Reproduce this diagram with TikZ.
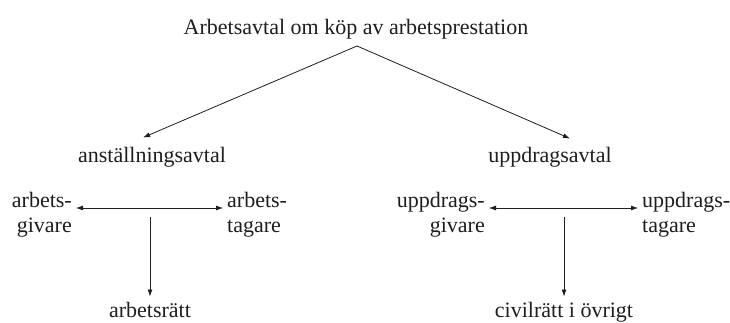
\documentclass[tikz,border=0pt]{standalone}
\usepackage{fontspec}
\setmainfont{Liberation Serif}
\usetikzlibrary{arrows.meta}
\definecolor{ink}{HTML}{1E1E1E}
\begin{document}
\begin{tikzpicture}[x=1pt,y=1pt,
  lbl/.style={inner sep=0pt, text=ink, font=\fontsize{22}{25}\selectfont},
  pair/.style={lbl, inner xsep=4pt},
  conn/.style={draw=ink, line width=0.8pt, -{Latex[length=7pt,width=5pt]}},
  both/.style={draw=ink, line width=0.8pt, {Latex[length=7pt,width=5pt]}-{Latex[length=7pt,width=5pt]}}]
\useasboundingbox (0,0) rectangle (730,-323);

% top level
\node[lbl, anchor=base] (title) at (356,-35) {Arbetsavtal om köp av arbetsprestation};
\coordinate (apex) at (357,-46);

% the two kinds of contract
\node[lbl, anchor=base] (anst) at (152,-163) {anställningsavtal};
\node[lbl, anchor=base] (uppd) at (550,-163) {uppdragsavtal};
\draw[conn] (apex) -- ([shift={(-9,10)}]anst.north);
\draw[conn] (apex) -- ([shift={(20,9)}]uppd.north);

% parties of the employment contract (base = baseline of the last line)
\node[pair, anchor=base east, align=right] (ag) at (76,-232) {arbets-\\givare};
\node[pair, anchor=base west, align=left] (at) at (223,-232) {arbets-\\tagare};
\coordinate (lmid) at (150,-208);
\coordinate (ltop) at (150,-217);
\draw[both] (ag.east |- lmid) -- (at.west |- lmid);
\node[lbl, anchor=base, inner ysep=5pt] (arb) at (150,-317) {arbetsrätt};
\draw[conn] (ltop) -- (arb.north);

% parties of the commission contract
\node[pair, anchor=base east, align=right] (ug) at (489,-232) {uppdrags-\\givare};
\node[pair, anchor=base west, align=left] (ut) at (638,-232) {uppdrags-\\tagare};
\coordinate (rmid) at (564,-208);
\coordinate (rtop) at (564,-217);
\draw[both] (ug.east |- rmid) -- (ut.west |- rmid);
\node[lbl, anchor=base, inner ysep=5pt] (civ) at (564,-317) {civilrätt i övrigt};
\draw[conn] (rtop) -- (civ.north);
\end{tikzpicture}
\end{document}
